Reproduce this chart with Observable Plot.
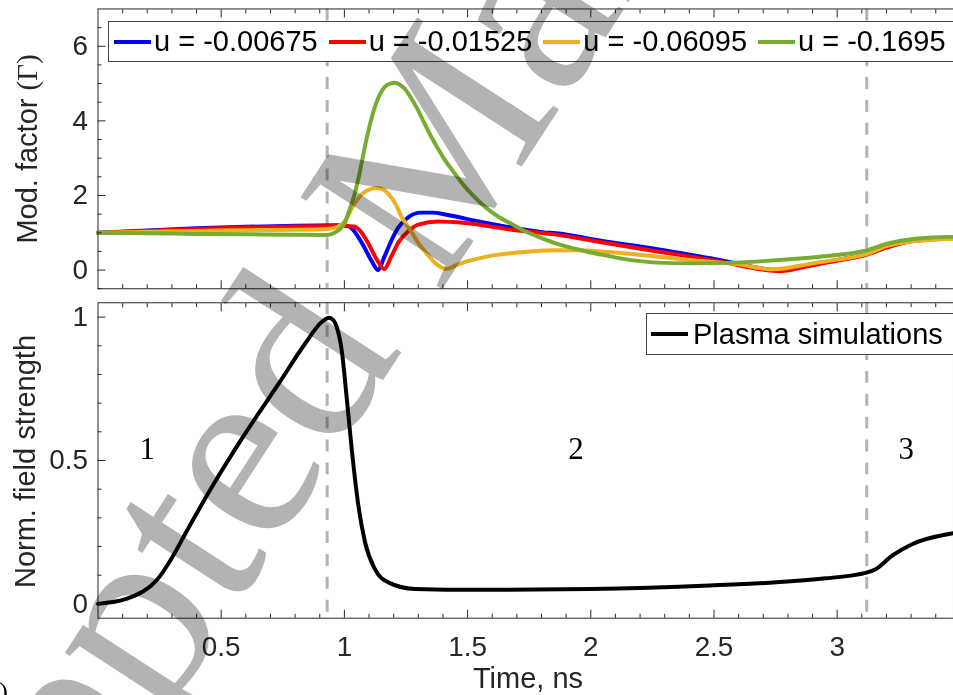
<!DOCTYPE html>
<html>
<head>
<meta charset="utf-8">
<script src="https://cdn.jsdelivr.net/npm/d3@7"></script>
<script src="https://cdn.jsdelivr.net/npm/@observablehq/plot@0.6"></script>
<style>
  html, body { margin: 0; padding: 0; background: #fff; }
  #wrap { position: relative; width: 953px; height: 695px; overflow: hidden; background: #fff;
          font-family: Arial, "Liberation Sans", Helvetica, sans-serif; color: #262626; }
  .panel { position: absolute; left: 0; }
  .legend { position: absolute; background: #fff; border: 1px solid #454545; box-sizing: border-box;
            display: flex; align-items: center; white-space: nowrap; font-size: 29px; color: #000; }
  .legend .sw { display: inline-block; width: 37px; height: 4px; }
  .legend .tx { margin-left: 3px; margin-right: 11px; line-height: 1; }
  #wm { position: absolute; left: 0; top: 0; mix-blend-mode: multiply; pointer-events: none; }
</style>
</head>
<body>
<div id="wrap"></div>
<script>
// ---------------- data ----------------
const seriesNames  = ["u = -0.00675", "u = -0.01525", "u = -0.06095", "u = -0.1695"];
const seriesColors = ["#0000ff", "#ff0000", "#edb120", "#77ac30"];

const timeBlue = [0, 0.2, 0.4, 0.6, 0.8, 0.98, 1.01, 1.03, 1.05, 1.08, 1.11, 1.137, 1.16, 1.19, 1.22, 1.26, 1.31, 1.36, 1.41, 1.54, 1.68, 1.81, 1.86, 2.03, 2.27, 2.5, 2.77, 2.9, 3.0, 3.115, 3.2, 3.3, 3.45, 3.47];
const modBlue  = [1.0, 1.06, 1.12, 1.16, 1.19, 1.2, 1.19, 1.12, 0.95, 0.62, 0.25, 0.0, 0.32, 0.78, 1.15, 1.42, 1.54, 1.54, 1.49, 1.31, 1.14, 1.01, 0.99, 0.8, 0.56, 0.3, 0.0, 0.16, 0.27, 0.42, 0.61, 0.78, 0.85, 0.85];

const timeRed = [0, 0.2, 0.4, 0.6, 0.8, 1.0, 1.04, 1.07, 1.1, 1.13, 1.162, 1.19, 1.22, 1.26, 1.3, 1.38, 1.49, 1.68, 1.86, 2.03, 2.27, 2.5, 2.77, 2.9, 3.0, 3.115, 3.2, 3.3, 3.45, 3.47];
const modRed  = [1.0, 1.05, 1.1, 1.14, 1.17, 1.18, 1.17, 1.0, 0.68, 0.3, 0.03, 0.36, 0.75, 1.05, 1.22, 1.3, 1.26, 1.08, 0.95, 0.76, 0.5, 0.26, -0.03, 0.13, 0.25, 0.4, 0.6, 0.77, 0.84, 0.84];

const timeOrange = [0, 0.2, 0.4, 0.6, 0.8, 0.93, 0.97, 1.0, 1.043, 1.07, 1.1, 1.134, 1.16, 1.18, 1.21, 1.23, 1.27, 1.3, 1.34, 1.37, 1.413, 1.45, 1.49, 1.55, 1.61, 1.74, 1.86, 1.95, 2.13, 2.4, 2.59, 2.74, 2.9, 3.0, 3.115, 3.2, 3.32, 3.45, 3.47];
const modOrange  = [1.0, 1.03, 1.05, 1.07, 1.08, 1.1, 1.15, 1.3, 1.8, 2.03, 2.16, 2.2, 2.15, 2.03, 1.75, 1.45, 1.05, 0.72, 0.4, 0.18, 0.03, 0.12, 0.22, 0.32, 0.4, 0.49, 0.53, 0.53, 0.45, 0.27, 0.16, 0.02, 0.18, 0.28, 0.42, 0.64, 0.78, 0.83, 0.83];

const timeGreen = [0, 0.2, 0.4, 0.6, 0.8, 0.93, 0.96, 0.985, 1.003, 1.02, 1.043, 1.06, 1.083, 1.1, 1.124, 1.145, 1.164, 1.185, 1.205, 1.225, 1.245, 1.27, 1.299, 1.325, 1.352, 1.38, 1.407, 1.45, 1.487, 1.53, 1.568, 1.62, 1.675, 1.74, 1.81, 1.864, 1.945, 2.0, 2.07, 2.133, 2.2, 2.268, 2.4, 2.59, 2.7, 2.806, 2.9, 3.008, 3.115, 3.21, 3.317, 3.45, 3.47];
const modGreen  = [1.0, 0.99, 0.97, 0.96, 0.95, 0.94, 1.0, 1.12, 1.28, 1.6, 2.07, 2.55, 3.3, 3.8, 4.38, 4.72, 4.91, 5.0, 5.02, 4.97, 4.86, 4.62, 4.29, 3.93, 3.58, 3.25, 2.96, 2.57, 2.25, 1.95, 1.71, 1.45, 1.25, 1.02, 0.83, 0.7, 0.56, 0.47, 0.38, 0.3, 0.24, 0.2, 0.18, 0.2, 0.24, 0.29, 0.34, 0.41, 0.52, 0.72, 0.84, 0.89, 0.89];

const plasmaName = "Plasma simulations";
const timePlasma  = [0, 0.115, 0.18, 0.215, 0.25, 0.303, 0.357, 0.464, 0.599, 0.734, 0.841, 0.908, 0.938, 0.955, 0.969, 0.989, 1.009, 1.03, 1.057, 1.084, 1.124, 1.178, 1.285, 1.541, 2.0, 2.483, 2.752, 2.954, 3.08, 3.115, 3.156, 3.223, 3.304, 3.45, 3.47];
const fieldPlasma = [0, 0.017, 0.042, 0.063, 0.095, 0.165, 0.249, 0.41, 0.596, 0.769, 0.908, 0.983, 0.998, 0.99, 0.965, 0.885, 0.722, 0.538, 0.341, 0.214, 0.121, 0.075, 0.052, 0.049, 0.052, 0.064, 0.075, 0.089, 0.102, 0.108, 0.121, 0.168, 0.208, 0.243, 0.246];

const phaseBoundaries = [0.93, 3.12];
const phaseLabels = ["1", "2", "3"];
const phaseLabelTime = [0.2, 1.94, 3.28];
const phaseLabelLevel = [0.54, 0.54, 0.54];

const xMajor = [0.5, 1, 1.5, 2, 2.5, 3];
const xTickLabels = ["0.5", "1", "1.5", "2", "2.5", "3"];
const xMinor = [0.1,0.2,0.3,0.4,0.6,0.7,0.8,0.9,1.1,1.2,1.3,1.4,1.6,1.7,1.8,1.9,2.1,2.2,2.3,2.4,2.6,2.7,2.8,2.9,3.1,3.2,3.3,3.4];
const yTopMajor = [0, 2, 4, 6];
const yTopTickLabels = ["0", "2", "4", "6"];
const yTopMinor = [-0.5, 0.5, 1, 1.5, 2.5, 3, 3.5, 4.5, 5, 5.5, 6.5];
const yBotMajor = [0, 0.5, 1];
const yBotTickLabels = ["0", "0.5", "1"];
const yBotMinor = [0.1, 0.2, 0.3, 0.4, 0.6, 0.7, 0.8, 0.9];

const xLabel = "Time, ns";
const watermarkText = "Accepted Manuscript";

// -------------- build --------------
const AX = "#262626";
const FONT = 'Arial, "Liberation Sans", Helvetica, sans-serif';
const SERIF = '"Liberation Serif", "Times New Roman", serif';
const xDomain = [0, 3.472];
const W = 958;

const modSeries = [
  [timeBlue, modBlue], [timeRed, modRed], [timeOrange, modOrange], [timeGreen, modGreen]
].map(([ts, vs], i) => ts.map((t, j) => ({series: seriesNames[i], t, v: vs[j]})));
const plasma = timePlasma.map((t, j) => ({t, v: fieldPlasma[j]}));
const phaseText = phaseLabels.map((s, i) => ({s, t: phaseLabelTime[i], v: phaseLabelLevel[i]}));

function inwardTicks(xt, yt, size) {
  const o = {tickFormat: () => "", label: null, color: AX, tickSize: size};
  return [
    Plot.axisX({...o, anchor: "bottom", ticks: xt, dy: -size}),
    Plot.axisX({...o, anchor: "top", ticks: xt, dy: size}),
    Plot.axisY({...o, anchor: "left", ticks: yt, dx: size})
  ];
}

const wrap = document.getElementById("wrap");

// top panel
const topPlot = Plot.plot({
  width: W, height: 296,
  marginLeft: 98, marginRight: 0, marginTop: 8.5, marginBottom: 6.25,
  style: {fontFamily: FONT, background: "transparent", overflow: "visible"},
  x: {domain: xDomain},
  y: {domain: [-0.5, 7]},
  marks: [
    Plot.ruleX(phaseBoundaries, {x: d => d, stroke: "#b3b3b3", strokeWidth: 3, strokeDasharray: "12,11"}),
    ...modSeries.map((data, i) => Plot.line(data, {x: "t", y: "v", stroke: seriesColors[i], strokeWidth: 4, curve: "monotone-x"})),
    ...inwardTicks(xMajor, yTopMajor, 8),
    ...inwardTicks(xMinor, yTopMinor, 4),
    Plot.axisY({anchor: "left", ticks: yTopMajor, tickSize: 0, tickPadding: 10, tickFormat: (d, i) => yTopTickLabels[i], fontSize: 28, color: AX, label: null}),
    Plot.frame({stroke: AX, strokeWidth: 1})
  ]
});
topPlot.classList.add("panel");
topPlot.style.top = "0px";
wrap.appendChild(topPlot);

// bottom panel
const botPlot = Plot.plot({
  width: W, height: 399,
  marginLeft: 98, marginRight: 0, marginTop: 6.3, marginBottom: 75.6,
  style: {fontFamily: FONT, background: "transparent", overflow: "visible"},
  x: {domain: xDomain},
  y: {domain: [-0.05, 1.05]},
  marks: [
    Plot.ruleX(phaseBoundaries, {x: d => d, stroke: "#b3b3b3", strokeWidth: 3, strokeDasharray: "12,11"}),
    Plot.line(plasma, {x: "t", y: "v", stroke: "#000", strokeWidth: 4, curve: "monotone-x"}),
    Plot.text(phaseText, {x: "t", y: "v", text: "s", fontFamily: SERIF, fontSize: 31, fill: "#000"}),
    ...inwardTicks(xMajor, yBotMajor, 8),
    ...inwardTicks(xMinor, yBotMinor, 4),
    Plot.axisY({anchor: "left", ticks: yBotMajor, tickSize: 0, tickPadding: 10, tickFormat: (d, i) => yBotTickLabels[i], fontSize: 28, color: AX, label: null}),
    Plot.axisX({anchor: "bottom", ticks: xMajor, tickSize: 0, tickPadding: 18, tickFormat: (d, i) => xTickLabels[i], fontSize: 28, color: AX, label: null}),
    Plot.frame({stroke: AX, strokeWidth: 1})
  ]
});
botPlot.classList.add("panel");
botPlot.style.top = "296px";
wrap.appendChild(botPlot);

// axis titles
const lab = d3.select(wrap).append("svg").attr("width", 953).attr("height", 695)
  .style("position", "absolute").style("left", 0).style("top", 0).style("pointer-events", "none");
const t1 = lab.append("text").attr("transform", "translate(37,149) rotate(-90)")
  .attr("text-anchor", "middle").attr("fill", AX).style("font-family", FONT).style("font-size", "29px");
t1.append("tspan").text("Mod. factor ");
t1.append("tspan").style("font-family", SERIF).text("(Γ)");
lab.append("text").attr("transform", "translate(35,461.5) rotate(-90)")
  .attr("text-anchor", "middle").attr("fill", AX).style("font-family", FONT).style("font-size", "29px")
  .text("Norm. field strength");
lab.append("text").attr("x", 528).attr("y", 688).attr("text-anchor", "middle").attr("fill", AX)
  .style("font-family", FONT).style("font-size", "29px").text(xLabel);
lab.append("text").attr("x", 8).attr("y", 700).attr("text-anchor", "end").attr("fill", "#000")
  .style("font-family", SERIF).style("font-size", "26px").text("(b)");

// legends
const lg1 = d3.select(wrap).append("div").attr("class", "legend")
  .style("left", "108px").style("top", "21px").style("width", "900px").style("height", "41px").style("padding-left", "5px");
seriesNames.forEach((n, i) => {
  lg1.append("span").attr("class", "sw").style("background", seriesColors[i]);
  lg1.append("span").attr("class", "tx").text(n);
});
const lg2 = d3.select(wrap).append("div").attr("class", "legend")
  .style("left", "646px").style("top", "313px").style("width", "400px").style("height", "42px").style("padding-left", "4px");
lg2.append("span").attr("class", "sw").style("background", "#000");
lg2.append("span").attr("class", "tx").style("margin-left", "5px").text(plasmaName);

// watermark
const wm = d3.select(wrap).append("svg").attr("id", "wm").attr("width", 953).attr("height", 695);
wm.append("text").attr("transform", "translate(-127.5,1166.4) rotate(-57)")
  .attr("fill", "#b3b3b3").style("font-family", SERIF)
  .style("font-size", "258px").text(watermarkText);
</script>
</body>
</html>
